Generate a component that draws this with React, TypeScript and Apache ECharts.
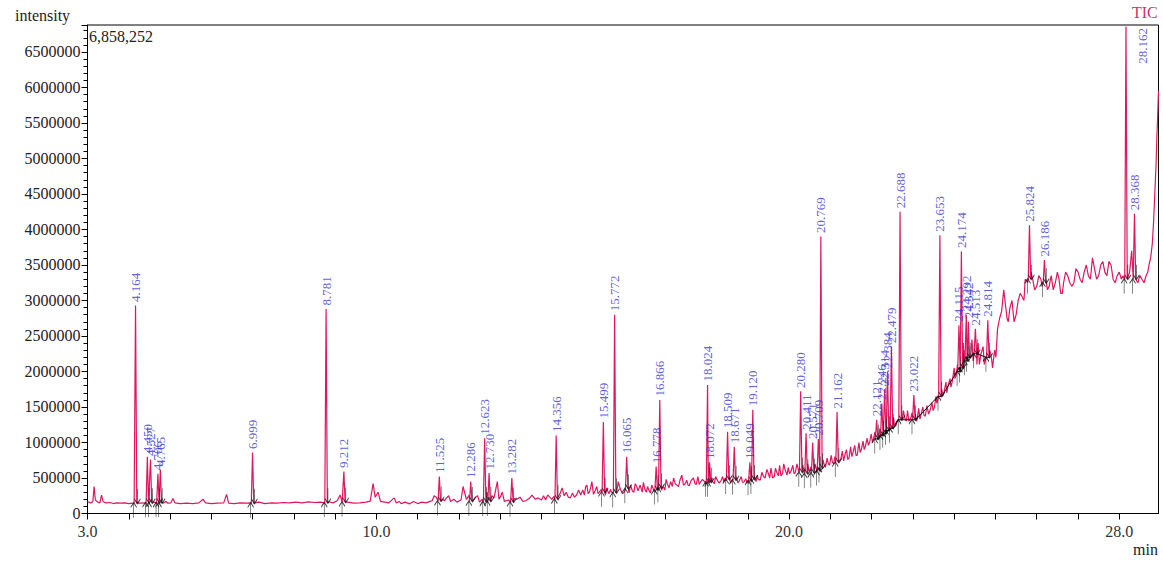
import React, { useEffect, useRef } from 'react';
import * as echarts from 'echarts';

const X_MIN = 3.0;
const X_MAX = 28.95;
const Y_MAX = 6880000;
const xLabelValues = [3, 10, 20, 28];
const maxIntensityText = '6,858,252';
const yAxisName = 'intensity';
const xAxisName = 'min';
const traceName = 'TIC';

// background (noise) of the total ion chromatogram: [min, intensity]
const baseTrace: [number, number][] = [
  [3.00, 165000], [3.08, 150000], [3.13, 170000], [3.16, 380000], [3.19, 190000], [3.25, 160000],
  [3.30, 150000], [3.34, 260000], [3.38, 165000], [3.45, 150000], [3.55, 155000], [3.62, 140000],
  [3.70, 150000], [3.80, 145000], [3.90, 150000], [4.00, 140000], [4.10, 145000], [4.13, 150000],
  [4.22, 150000], [4.30, 145000], [4.40, 150000], [4.60, 160000], [4.85, 150000], [4.90, 170000],
  [4.95, 145000], [5.02, 150000], [5.07, 210000], [5.12, 150000], [5.25, 140000], [5.40, 145000],
  [5.55, 140000], [5.70, 150000], [5.80, 200000], [5.86, 150000], [6.00, 140000], [6.15, 145000],
  [6.30, 150000], [6.37, 270000], [6.42, 145000], [6.55, 140000], [6.70, 150000], [6.85, 145000],
  [6.95, 150000], [7.05, 150000], [7.15, 160000], [7.30, 140000], [7.45, 150000], [7.60, 145000],
  [7.75, 155000], [7.90, 150000], [8.05, 160000], [8.20, 150000], [8.35, 165000], [8.50, 155000],
  [8.65, 160000], [8.75, 150000], [8.85, 165000], [8.95, 150000], [9.05, 180000], [9.12, 260000],
  [9.17, 160000], [9.30, 160000], [9.45, 145000], [9.60, 150000], [9.75, 160000], [9.85, 175000],
  [9.92, 420000], [9.97, 230000], [10.04, 300000], [10.10, 170000], [10.20, 160000], [10.30, 150000],
  [10.43, 220000], [10.48, 150000], [10.60, 140000], [10.80, 135000], [11.00, 140000], [11.20, 150000],
  [11.35, 180000], [11.45, 230000], [11.60, 200000], [11.70, 220000], [11.80, 170000], [11.95, 160000],
  [12.10, 380000], [12.18, 200000], [12.40, 230000], [12.50, 160000], [12.80, 250000], [12.93, 450000],
  [13.00, 230000], [13.10, 170000], [13.40, 200000], [13.55, 170000], [13.70, 210000], [13.77, 260000],
  [13.85, 200000], [14.00, 190000], [14.20, 230000], [14.45, 280000], [14.50, 360000], [14.55, 250000],
  [14.70, 220000], [14.85, 260000], [15.00, 330000], [15.10, 400000], [15.16, 300000], [15.22, 450000],
  [15.30, 320000], [15.40, 300000], [15.60, 320000], [15.70, 300000], [15.86, 450000], [15.92, 330000],
  [16.00, 300000], [16.20, 320000], [16.30, 390000], [16.39, 400000], [16.50, 350000], [16.60, 330000],
  [16.70, 360000], [16.95, 380000], [17.05, 420000], [17.20, 500000], [17.28, 400000], [17.40, 540000],
  [17.48, 420000], [17.55, 400000], [17.68, 500000], [17.75, 410000], [17.85, 440000], [17.95, 450000],
  [18.15, 450000], [18.25, 480000], [18.35, 460000], [18.45, 500000], [18.60, 450000], [18.80, 470000],
  [18.90, 440000], [19.00, 460000], [19.25, 480000], [19.38, 520000], [19.50, 560000], [19.60, 500000],
  [19.70, 580000], [19.80, 530000], [19.90, 620000], [19.95, 540000], [20.05, 600000], [20.15, 580000],
  [20.35, 620000], [20.50, 600000], [20.65, 640000], [20.85, 680000], [20.95, 700000], [21.05, 720000],
  [21.25, 760000], [21.35, 820000], [21.45, 780000], [21.55, 860000], [21.65, 820000], [21.75, 900000],
  [21.85, 950000], [21.95, 1000000], [22.05, 1060000], [22.18, 1120000], [22.55, 1250000], [22.80, 1350000],
  [22.90, 1300000], [23.10, 1320000], [23.20, 1400000], [23.30, 1370000], [23.42, 1460000], [23.52, 1500000],
  [23.60, 1600000], [23.75, 1700000], [23.85, 1800000], [23.95, 1850000], [24.05, 1950000], [24.25, 2300000],
  [24.40, 2200000], [24.55, 2100000], [24.65, 2250000], [24.75, 2150000], [24.90, 2200000], [24.95, 2160000],
  [25.05, 2600000], [25.15, 2850000], [25.20, 3150000], [25.28, 2750000], [25.35, 2900000], [25.45, 2700000],
  [25.55, 3000000], [25.65, 3050000], [25.72, 3300000], [25.78, 3250000], [25.90, 3300000], [26.00, 3200000],
  [26.10, 3300000], [26.30, 3200000], [26.40, 3150000], [26.50, 3400000], [26.58, 3100000], [26.65, 3250000],
  [26.75, 3350000], [26.85, 3200000], [26.95, 3450000], [27.05, 3300000], [27.15, 3400000], [27.25, 3350000],
  [27.35, 3600000], [27.45, 3300000], [27.55, 3500000], [27.65, 3400000], [27.75, 3550000], [27.85, 3300000],
  [27.95, 3350000], [28.05, 3300000], [28.25, 3400000], [28.45, 3250000], [28.55, 3300000], [28.65, 3350000],
  [28.72, 3500000], [28.80, 3800000], [28.86, 4500000], [28.91, 5300000], [28.95, 5950000],
];

// extra fine wiggles read between the points above: [min, intensity]
const noiseTrace: [number, number][] = [
  [10.55, 170000], [10.70, 160000], [10.90, 170000], [11.10, 160000], [11.30, 170000], [11.40, 250000],
  [11.65, 180000], [11.75, 250000], [11.88, 200000], [12.05, 190000], [12.25, 260000], [12.35, 190000],
  [12.45, 250000], [12.56, 200000], [12.68, 300000], [12.85, 220000], [12.97, 200000], [13.05, 300000],
  [13.20, 190000], [13.35, 210000], [13.48, 230000], [13.62, 180000], [13.92, 220000],
  [14.05, 250000], [14.10, 190000], [14.15, 260000], [14.25, 200000], [14.30, 240000], [14.40, 230000],
  [14.60, 300000], [14.65, 230000], [14.75, 290000], [14.80, 230000], [14.90, 330000], [14.95, 260000],
  [15.04, 260000], [15.07, 380000], [15.13, 280000], [15.19, 360000], [15.26, 270000], [15.34, 380000],
  [15.37, 280000], [15.45, 340000], [15.55, 260000], [15.58, 360000], [15.64, 280000], [15.67, 340000],
  [15.82, 300000], [15.89, 380000], [15.96, 280000], [16.10, 380000], [16.12, 290000], [16.16, 400000],
  [16.24, 300000], [16.27, 420000], [16.34, 320000], [16.44, 300000], [16.47, 440000], [16.54, 300000],
  [16.57, 380000], [16.64, 290000], [16.67, 400000], [16.73, 310000], [16.82, 330000], [16.91, 330000],
  [16.99, 330000], [17.02, 480000], [17.09, 360000], [17.13, 450000], [17.17, 380000], [17.24, 420000],
  [17.32, 380000], [17.36, 480000], [17.44, 400000], [17.52, 470000], [17.58, 390000], [17.62, 460000],
  [17.72, 420000], [17.79, 520000], [17.82, 410000], [17.90, 480000], [17.98, 420000], [18.12, 500000],
  [18.19, 420000], [18.22, 520000], [18.30, 430000], [18.39, 520000], [18.42, 440000], [18.47, 460000],
  [18.55, 520000], [18.58, 430000], [18.63, 480000], [18.72, 520000], [18.76, 430000], [18.84, 520000],
  [18.87, 440000], [18.95, 490000], [18.98, 430000], [19.16, 520000], [19.20, 450000], [19.23, 540000],
  [19.30, 470000], [19.34, 580000], [19.42, 500000], [19.46, 620000], [19.53, 500000], [19.56, 640000],
  [19.64, 520000], [19.67, 640000], [19.74, 530000], [19.77, 680000], [19.84, 560000], [19.87, 700000],
  [19.98, 650000], [20.01, 560000], [20.09, 680000], [20.12, 560000], [20.19, 700000], [20.23, 600000],
  [20.33, 680000], [20.37, 580000], [20.45, 700000], [20.48, 600000], [20.53, 660000], [20.61, 620000],
  [20.63, 700000], [20.67, 620000], [20.82, 760000], [20.88, 650000], [20.92, 780000], [20.98, 680000],
  [21.02, 820000], [21.08, 700000], [21.11, 800000], [21.21, 740000], [21.29, 880000], [21.32, 740000],
  [21.39, 900000], [21.42, 760000], [21.49, 940000], [21.52, 800000], [21.59, 960000], [21.62, 820000],
  [21.69, 1000000], [21.72, 860000], [21.79, 1020000], [21.82, 900000], [21.89, 1060000], [21.92, 960000],
  [21.99, 1120000], [22.02, 1000000], [22.08, 1150000], [22.16, 1100000], [22.20, 1200000], [22.53, 1350000],
  [22.58, 1230000], [22.62, 1300000], [22.74, 1320000], [22.77, 1450000], [22.84, 1300000], [22.87, 1450000],
  [22.95, 1350000], [22.98, 1420000], [23.06, 1400000], [23.08, 1300000], [23.14, 1480000], [23.17, 1330000],
  [23.24, 1500000], [23.27, 1380000], [23.34, 1520000], [23.38, 1400000], [23.46, 1560000], [23.49, 1450000],
  [23.56, 1650000], [23.58, 1550000], [23.70, 1750000], [23.72, 1650000], [23.80, 1850000], [23.82, 1700000],
  [23.90, 1900000], [23.92, 1780000], [24.00, 2050000], [24.02, 1900000], [24.08, 2100000], [24.22, 2400000],
  [24.24, 2150000], [24.43, 2450000], [24.46, 2150000], [24.58, 2400000], [24.61, 2100000], [24.70, 2350000],
  [24.73, 2100000], [24.86, 2300000], [24.93, 2050000], [24.98, 2300000], [25.01, 2200000], [25.10, 2750000],
  [25.24, 2950000], [25.31, 2700000], [25.40, 3000000], [25.50, 2800000], [25.60, 3100000], [25.69, 3000000],
  [25.86, 3400000], [25.95, 3150000], [26.05, 3350000], [26.13, 3200000], [26.22, 3300000], [26.26, 3150000],
  [26.35, 3350000], [26.45, 3250000], [26.54, 3300000], [26.62, 3100000], [26.70, 3400000], [26.80, 3250000],
  [26.90, 3250000], [27.00, 3400000], [27.10, 3250000], [27.20, 3500000], [27.30, 3300000], [27.40, 3450000],
  [27.50, 3350000], [27.60, 3550000], [27.70, 3350000], [27.80, 3500000], [27.90, 3250000], [28.00, 3400000],
  [28.09, 3350000], [28.30, 3700000], [28.50, 3350000], [28.60, 3250000], [28.69, 3400000], [28.76, 3600000],
  [28.83, 4100000], [28.89, 4900000], [28.93, 5600000],
];

// labelled peaks
const peakTimes = [
  4.164, 4.450, 4.527, 4.706, 4.765, 6.999, 8.781, 9.212, 11.525, 12.286, 12.623, 12.730, 13.282,
  14.356, 15.499, 15.772, 16.065, 16.778, 16.866, 18.024, 18.072, 18.509, 18.671, 19.049, 19.120,
  20.280, 20.411, 20.571, 20.709, 20.769, 21.162, 22.121, 22.246, 22.314, 22.384, 22.479, 22.688,
  23.022, 23.653, 24.115, 24.174, 24.292, 24.342, 24.513, 24.814, 25.824, 26.186, 28.162, 28.368,
];
const peakHeights = [
  2930000, 800000, 760000, 560000, 620000, 860000, 2880000, 590000, 520000, 450000, 1060000, 570000, 500000,
  1100000, 1290000, 2800000, 800000, 660000, 1600000, 1810000, 720000, 1150000, 940000, 720000, 1460000,
  1720000, 1130000, 1000000, 1050000, 3900000, 1430000, 1320000, 1550000, 1750000, 2000000, 2350000, 4250000,
  1670000, 3920000, 2650000, 3690000, 2800000, 2700000, 2600000, 2720000, 4060000, 3570000, 6858252, 4220000,
];
const peakBases = [
  145000, 150000, 150000, 150000, 150000, 145000, 150000, 160000, 175000, 170000, 165000, 170000, 160000,
  200000, 300000, 290000, 350000, 330000, 360000, 440000, 440000, 480000, 470000, 460000, 480000,
  580000, 560000, 570000, 600000, 640000, 720000, 1050000, 1100000, 1130000, 1170000, 1200000, 1320000,
  1320000, 1650000, 2000000, 2050000, 2150000, 2200000, 2250000, 2200000, 3300000, 3250000, 3300000, 3300000,
];

const FONT = '"Liberation Serif", "Times New Roman", serif';
const TRACE_COLOR = '#e0165f';
const LABEL_BLUE = '#3434d6';
const HALF = 0.03;
const MARK = 0.045;

function buildOption() {
  const trace: [number, number][] = baseTrace.concat(noiseTrace).map((p) => [p[0], p[1]] as [number, number]);
  peakTimes.forEach((t, i) => {
    trace.push([t - HALF, peakBases[i]], [t, peakHeights[i]], [t + HALF, peakBases[i]]);
  });
  trace.sort((a, b) => a[0] - b[0]);

  const starts = peakTimes.map((t, i) => [t - MARK, peakBases[i]]);
  const ends = peakTimes.map((t, i) => [t + MARK, peakBases[i]]);
  const integ: [number, number][] = [];
  peakTimes.forEach((t, i) => {
    if (t > 22 && t < 25) integ.push([t - MARK, peakBases[i]], [t + MARK, peakBases[i]]);
  });

  const topIdx = peakHeights.indexOf(Math.max(...peakHeights));
  const labelPts = peakTimes.map((t, i) => [t, peakHeights[i]]).filter((_, i) => i !== topIdx);
  const topPt = [[peakTimes[topIdx], peakHeights[topIdx]]];

  const labelStyle = { color: LABEL_BLUE, fontSize: 13, fontFamily: FONT };

  return {
    animation: false,
    backgroundColor: '#fff',
    grid: {
      left: 87.5, right: 4.5, top: 25, bottom: 49.5, show: true,
      borderColor: '#000', borderWidth: 1, backgroundColor: 'transparent',
      containLabel: false, outerBoundsMode: 'none',
    },
    xAxis: {
      type: 'value', min: X_MIN, max: X_MAX, interval: 1,
      axisLine: { show: true, lineStyle: { color: '#000', width: 1 } },
      axisTick: { show: true, length: 6, lineStyle: { color: '#000' } },
      axisLabel: {
        show: true, interval: 0, hideOverlap: false, showMaxLabel: false, margin: 10,
        color: '#333', fontSize: 16, fontFamily: FONT,
        formatter: (v: number) => (xLabelValues.some((x) => Math.abs(x - v) < 1e-6) ? v.toFixed(1) : ''),
      },
      splitLine: { show: false },
    },
    yAxis: {
      type: 'value', min: 0, max: Y_MAX, interval: 500000,
      axisLine: { show: true, lineStyle: { color: '#000', width: 1 } },
      axisTick: { show: true, length: 6, lineStyle: { color: '#000' } },
      minorTick: { show: true, splitNumber: 5, length: 4, lineStyle: { color: '#000' } },
      axisLabel: {
        show: true, margin: 7, color: '#222', fontSize: 16, fontFamily: FONT, showMaxLabel: false,
        formatter: (v: number) => (v % 500000 === 0 ? String(v) : ''),
      },
      splitLine: { show: false },
    },
    graphic: [
      { type: 'text', left: 15, top: 7, style: { text: yAxisName, fill: '#222', fontSize: 16, fontFamily: FONT } },
      { type: 'text', left: 89, top: 28, style: { text: maxIntensityText, fill: '#222', fontSize: 16, fontFamily: FONT } },
      { type: 'text', left: 1132, top: 4, style: { text: traceName, fill: '#d6306e', fontSize: 16, fontFamily: FONT } },
      { type: 'text', left: 1133, top: 541, style: { text: xAxisName, fill: '#222', fontSize: 16, fontFamily: FONT } },
    ],
    series: [
      {
        type: 'line', name: traceName, data: trace, showSymbol: false, symbol: 'none',
        lineStyle: { color: TRACE_COLOR, width: 1.2 }, z: 2, silent: true,
      },
      {
        type: 'line', data: integ, showSymbol: false, symbol: 'none',
        lineStyle: { color: '#111', width: 1 }, z: 3, silent: true,
      },
      {
        type: 'scatter', data: starts, symbol: 'path://M4,0L4,16M0,5L4,0L8,5',
        symbolSize: [6, 15], symbolOffset: [0, 7], z: 4, silent: true,
        itemStyle: { color: 'transparent', borderColor: '#111', borderWidth: 1 },
      },
      {
        type: 'scatter', data: ends, symbol: 'path://M4,0L4,16M0,11L4,16L8,11',
        symbolSize: [6, 15], symbolOffset: [0, -7], z: 4, silent: true,
        itemStyle: { color: 'transparent', borderColor: '#111', borderWidth: 1 },
      },
      {
        type: 'scatter', data: labelPts, symbolSize: 1, z: 5, silent: true,
        itemStyle: { color: 'rgba(0,0,0,0)' },
        label: {
          show: true, position: 'top', distance: 3, rotate: 90, align: 'left', verticalAlign: 'middle',
          formatter: (p: any) => p.value[0].toFixed(3), ...labelStyle,
        },
      },
      {
        type: 'scatter', data: topPt, symbolSize: 1, z: 5, silent: true,
        itemStyle: { color: 'rgba(0,0,0,0)' },
        label: {
          show: true, position: [17, 2], rotate: 90, align: 'right', verticalAlign: 'middle',
          formatter: (p: any) => p.value[0].toFixed(3), ...labelStyle,
        },
      },
    ],
  };
}

export default function App() {
  const ref = useRef<HTMLDivElement>(null);
  useEffect(() => {
    if (!ref.current) return;
    const chart = echarts.init(ref.current, null, { renderer: 'svg' });
    chart.setOption(buildOption() as any);
    return () => chart.dispose();
  }, []);
  return (
    <div
      ref={ref}
      style={{ position: 'fixed', left: 0, top: 0, width: 1163, height: 563, background: '#fff' }}
    />
  );
}
